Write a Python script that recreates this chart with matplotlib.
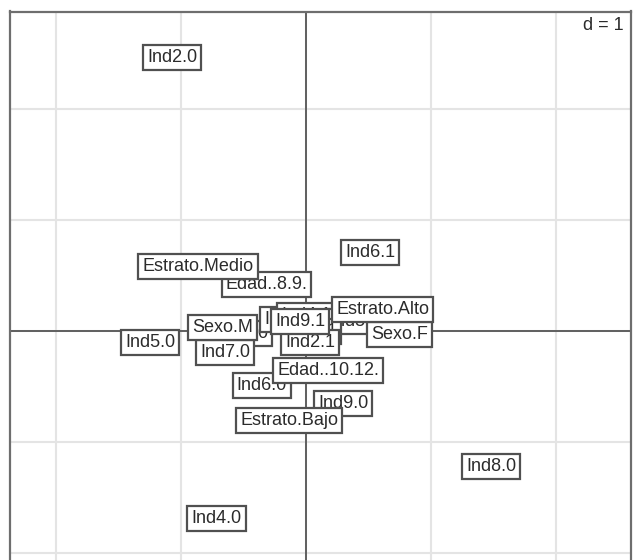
import matplotlib
matplotlib.use('Agg')
import matplotlib.pyplot as plt

plt.rcParams['font.family'] = ['Liberation Sans', 'DejaVu Sans']

# etiquetas y coordenadas (ejes 1 y 2), en orden de dibujo
labels = ['Ind3.0', 'Ind1.1', 'Ind4.1', 'Ind5.1', 'Ind3.1', 'Ind2.1', 'Ind9.1',
          'Ind2.0', 'Ind6.1', 'Ind5.0', 'Ind7.0', 'Ind6.0', 'Ind9.0', 'Ind8.0', 'Ind4.0',
          'Sexo.M', 'Sexo.F', 'Edad..8.9.', 'Edad..10.12.',
          'Estrato.Medio', 'Estrato.Alto', 'Estrato.Bajo']
x = [-0.504, -0.136, 0.0, 0.392, 0.048, 0.032, -0.048,
     -1.072, 0.512, -1.248, -0.648, -0.352, 0.296, 1.48, -0.716,
     -0.668, 0.748, -0.316, 0.176,
     -0.864, 0.612, -0.136]
y = [-0.023, 0.104, 0.14, 0.086, -0.005, -0.104, 0.081,
     2.459, 0.707, -0.108, -0.194, -0.491, -0.653, -1.225, -1.694,
     0.032, -0.036, 0.419, -0.360,
     0.581, 0.194, -0.806]
grid_ticks = [-2, -1, 0, 1, 2]

fig = plt.figure(figsize=(6.33, 5.6), dpi=100)
# limites elegidos para que el marco quede como en la captura (recortada abajo)
xmin, xmax = -2.372, 2.6
ymin, ymax = -2.2, 2.874
ax = fig.add_axes([9.5 / 633, (560 - 575) / 560, (631 - 9.5) / 633, (575 - 11.5) / 560])
ax.set_xlim(xmin, xmax)
ax.set_ylim(ymin, ymax)

ax.set_xticks(grid_ticks)
ax.set_yticks(grid_ticks)
ax.grid(True, color='#e4e4e4', linewidth=1.5)
ax.tick_params(length=0, labelbottom=False, labelleft=False)
for s in ax.spines.values():
    s.set_color('#6e6e6e')
    s.set_linewidth(1.6)

ax.axhline(0, color='#555555', linewidth=1.3, zorder=2)
ax.axvline(0, color='#555555', linewidth=1.3, zorder=2)

for i, (lab, xi, yi) in enumerate(zip(labels, x, y)):
    ax.text(xi, yi, lab, ha='center', va='center', fontsize=13, color='#2b2b2b',
            zorder=3 + i,
            bbox=dict(boxstyle='square,pad=0.22', facecolor='white',
                      edgecolor='#505050', linewidth=1.6))

ax.text(0.988, 0.975, 'd = 1', transform=ax.transAxes, ha='right', va='center',
        fontsize=13, color='#2b2b2b', zorder=40,
        bbox=dict(boxstyle='square,pad=0.15', facecolor='white', edgecolor='none'))

fig.savefig('out.png', dpi=100)
